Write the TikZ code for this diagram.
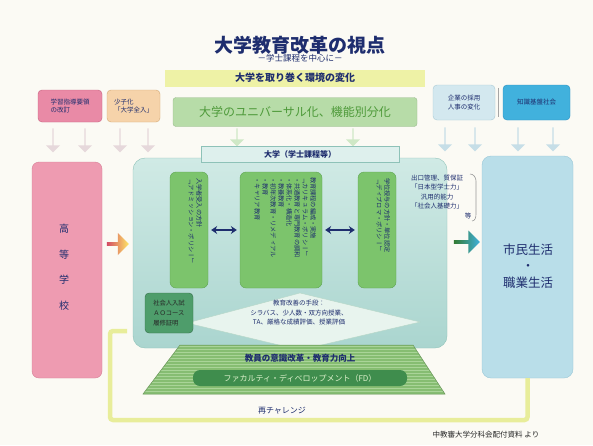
\documentclass[tikz,border=0pt]{standalone}
\usepackage{fontspec}
\setmainfont{Noto Sans CJK JP}
\newfontfamily\vjp{Noto Sans CJK JP}[Vertical=RotatedGlyphs]
\usetikzlibrary{shapes.arrows,shapes.geometric,arrows.meta}
\definecolor{navy}{HTML}{1E2D6E}
\definecolor{bgc}{HTML}{FBFAF4}
\definecolor{pinkt}{HTML}{E98AA6}
\definecolor{pinktd}{HTML}{C8607E}
\definecolor{orat}{HTML}{F6D3AA}
\definecolor{oratd}{HTML}{D4A874}
\definecolor{lbt}{HTML}{D3E8EF}
\definecolor{lbtd}{HTML}{A9CAD6}
\definecolor{bt}{HTML}{41B1DD}
\definecolor{btd}{HTML}{2A8FBF}
\definecolor{yband}{HTML}{EEF2A6}
\definecolor{gband}{HTML}{B7DCA8}
\definecolor{gtext}{HTML}{4E9A3A}
\definecolor{univf}{HTML}{AAD5CF}
\definecolor{univt}{HTML}{D0EAE5}
\definecolor{univd}{HTML}{8EC2B8}
\definecolor{colf}{HTML}{7CC46C}
\definecolor{cold}{HTML}{5EA452}
\definecolor{pinkb}{HTML}{EE9BB1}
\definecolor{pinkbd}{HTML}{D67E96}
\definecolor{blueb}{HTML}{B9DEE9}
\definecolor{bluebd}{HTML}{98C6D6}
\definecolor{darr}{HTML}{E6D8DB}
\definecolor{barr}{HTML}{C6DEE7}
\definecolor{garr}{HTML}{CFE8C6}
\definecolor{loopc}{HTML}{E8ED9A}
\definecolor{trapf}{HTML}{86BD72}
\definecolor{trapl}{HTML}{A9D498}
\definecolor{fdf}{HTML}{3F8D4D}
\definecolor{fdt}{HTML}{DDF2CC}
\definecolor{diaf}{HTML}{E8F4EE}
\definecolor{diad}{HTML}{B5D6C6}
\definecolor{sboxf}{HTML}{4E9D6B}
\begin{document}
\begin{tikzpicture}[x=1pt,y=-1pt,
  tbox/.style={rounded corners=4, minimum height=32, inner sep=2, align=left, font=\fontsize{6.5}{8.5}\selectfont, text=navy},
  downarr/.style={single arrow, shape border rotate=270, minimum height=24, minimum width=14, single arrow head extend=2.5, inner sep=0, draw=none},
  colbox/.style={draw=cold, fill=colf, rounded corners=6, minimum height=116, inner sep=0},
  vtxt/.style={font=\vjp\fontsize{6.2}{8}\selectfont, rotate=-90, align=left, inner sep=0, anchor=north west, text=navy},
  dbl/.style={{Stealth[length=6pt,width=8pt]}-{Stealth[length=6pt,width=8pt]}, line width=2.2pt, navy, shorten <=3pt, shorten >=3pt},
  bigtxt/.style={text=navy, font=\fontsize{12.5}{16}\selectfont}
]
\useasboundingbox (0,0) rectangle (593,445);
\fill[bgc] (0,0) rectangle (593,445);

% title
\node[text=navy, font=\bfseries\fontsize{19}{22}\selectfont] (title) at (300,45) {大学教育改革の視点};
\node[text=navy, font=\fontsize{8.5}{10}\selectfont] (sub) at (300,58) {－学士課程を中心に－};

% environment bands
\node[fill=yband, minimum width=260, minimum height=17, inner sep=0, text=navy, font=\bfseries\fontsize{10}{12}\selectfont] (env) at (295,78) {大学を取り巻く環境の変化};
\node[fill=gband, draw=gband!85!black, rounded corners=3, minimum width=244, minimum height=29, inner sep=0, text=gtext, font=\fontsize{12}{14}\selectfont] (univz) at (295,112) {大学のユニバーサル化、機能別分化};

% top boxes
\node[tbox, fill=pinkt, draw=pinktd, minimum width=64] (t1) at (70,106) {学習指導要領\\の改訂};
\node[tbox, fill=orat, draw=oratd, minimum width=53] (t2) at (133.5,106) {少子化\\「大学全入」};
\node[tbox, fill=lbt, draw=lbtd, minimum width=62, minimum height=35] (t3) at (464,102.5) {企業の採用\\人事の変化};
\node[tbox, fill=bt, draw=btd, minimum width=67, minimum height=35] (t4) at (536.5,102.5) {知識基盤社会};
\draw[gray!70, line width=0.6pt] ([xshift=3pt,yshift=-3pt]t3.north east) -- ([xshift=3pt,yshift=3pt]t3.south east);

% down arrows
\foreach \x/\c [count=\i] in {53/darr,85/darr,120/darr,148/darr}
  \node[downarr, fill=\c] (la\i) at (\x,140) {};
\foreach \x [count=\i] in {445,475,518,553}
  \node[downarr, fill=barr] (ra\i) at (\x,139) {};
\foreach \x [count=\i] in {237,353}
  \node[downarr, fill=garr, minimum height=18] (ga\i) at (\x,137) {};

% side boxes
\node[fill=pinkb, draw=pinkbd, rounded corners=7, minimum width=70, minimum height=216, inner sep=0] (hs) at (67,270) {};
\node[text=navy, align=center, font=\fontsize{10}{25.5}\selectfont] (hstxt) at (64,267) {高\\等\\学\\校};
\node[fill=blueb, draw=bluebd, rounded corners=9, minimum width=91, minimum height=222, inner sep=0] (life) at (527.5,267) {};
\node[bigtxt, align=center, font=\fontsize{12.5}{16.5}\selectfont] (lifetxt) at (528,266) {市民生活\\・\\職業生活};

% re-challenge loop
\coordinate (loopend) at (127,331);
\draw[loopc, line width=4.5pt, rounded corners=3] (life.south) -- (527.5,420) -- (110,420) -- (110,331) -- (loopend);
\node[text=navy, font=\fontsize{8}{10}\selectfont] (retry) at (282,411) {再チャレンジ};

% university box
\node[draw=univd, top color=univt, bottom color=univf, rounded corners=12, minimum width=314, minimum height=190, inner sep=0] (univ) at (290,253) {};
\node[fill=univt!70!white, draw=univd, minimum width=198, minimum height=16, inner sep=0, text=navy, font=\bfseries\fontsize{8}{10}\selectfont] (tab) at (300,154) {大学（学士課程等）};

% columns
\node[colbox, minimum width=38] (lcol) at (189,230) {};
\node[colbox, minimum width=82] (mcol) at (281,230) {};
\node[colbox, minimum width=38] (rcol) at (377,230) {};
\node[vtxt] (ltxt) at ([xshift=-6pt,yshift=-6pt]lcol.north east) {入学者受入の方針\\「アドミッション・ポリシー」};
\node[vtxt] (mtxt) at ([xshift=-6pt,yshift=-5pt]mcol.north east) {教育課程の編成・実施\\「カリキュラム・ポリシー」\\・共通教育と専門教育の調和\\・体系化・構造化\\・教養教育\\・初年次教育・リメディアル\\・教育\\・キャリア教育};
\node[vtxt] (rtxt) at ([xshift=-6pt,yshift=-6pt]rcol.north east) {学位授与の方針・単位認定\\「ディプロマ・ポリシー」};
\draw[dbl] (lcol.east) -- (mcol.west);
\draw[dbl] (mcol.east) -- (rcol.west);

% exit text
\node[text=navy, align=center, inner sep=0, font=\fontsize{6.5}{9.3}\selectfont] (exit) at (437,192) {出口管理、質保証\\「日本型学士力」\\汎用的能力\\「社会人基礎力」};
\node[text=navy, inner sep=0, font=\fontsize{6.5}{8}\selectfont] (exit2) at (468,216) {等};
\draw[gray!80, line width=0.6pt] (470,174) to[out=0,in=90] (476,181) -- (476,214) to[out=-90,in=0] (472,221);

% flow arrows
\node[single arrow, left color=pinktd!80!red, right color=yellow!70!orange!60, minimum height=22, minimum width=22, single arrow head extend=1, inner sep=0] (inarr) at (117,244) {};
\node[single arrow, left color=green!35!black!80, right color=bt, minimum height=26, minimum width=23, single arrow head extend=1, inner sep=0] (outarr) at (466,242) {};

% diamond
\path[fill=diaf, draw=diad] (187,323) -- (300,293) -- (420,322) -- (300,350) -- cycle;
\node[text=navy, align=center, inner sep=0, font=\fontsize{6.5}{9.5}\selectfont] (tools) at (299,313) {教育改善の手段：\\シラバス、少人数・双方向授業、\\TA、厳格な成績評価、授業評価};

% bottom-left box
\node[fill=sboxf, draw=sboxf!70!black, rounded corners=4, minimum width=48, minimum height=40, inner sep=0, align=left, text=black!85, font=\fontsize{6.3}{10}\selectfont] (sbox) at (169,313) {社会人入試\\ＡＯコース\\履修証明};

% trapezoid (faculty development)
\begin{scope}
\clip (180,345) -- (413,345) -- (445,394) -- (143,394) -- cycle;
\fill[trapf] (140,343) rectangle (450,396);
\foreach \yy in {346,349,...,394}
  \draw[trapl, line width=0.8pt] (140,\yy) -- (450,\yy);
\end{scope}
\draw[trapf!80!black, line width=0.5pt] (180,345) -- (413,345) -- (445,394) -- (143,394) -- cycle;
\node[text=navy, font=\bfseries\fontsize{8.5}{10}\selectfont] (fdhead) at (300,358) {教員の意識改革・教育力向上};
\node[fill=fdf, rounded corners=7, minimum width=214, minimum height=16, inner sep=0, text=fdt, font=\fontsize{8}{10}\selectfont] (fd) at (300,378) {ファカルティ・ディベロップメント（FD）};

% source
\node[text=black!85, font=\fontsize{7.5}{9}\selectfont] (src) at (486,435) {中教審大学分科会配付資料 より};
\end{tikzpicture}
\end{document}
